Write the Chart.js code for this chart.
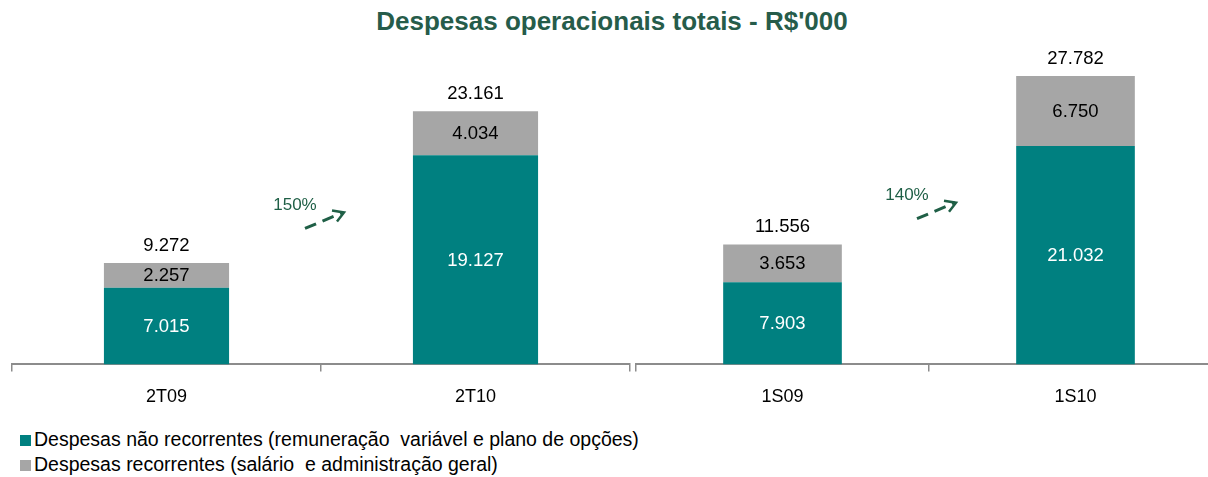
<!DOCTYPE html>
<html>
<head>
<meta charset="utf-8">
<script src="https://cdn.jsdelivr.net/npm/chart.js@4.4.0/dist/chart.umd.min.js"></script>
<style>
  body { margin: 0; width: 1208px; height: 477px; overflow: hidden; background: #fff; font-family: "Liberation Sans", Arial, sans-serif; position: relative; }
  #title { position: absolute; top: 6px; left: 0; width: 1224px; text-align: center; font-weight: bold; font-size: 26px; color: #265c4a; }
  #wrapLeft { position: absolute; left: 0; top: 0; width: 632px; height: 425px; }
  #wrapRight { position: absolute; left: 634px; top: 0; width: 600px; height: 425px; }
  #legend { position: absolute; left: 20px; top: 427px; font-size: 19.5px; color: #000; line-height: 25px; }
  #legend span.box { display: inline-block; width: 11px; height: 11px; margin-right: 3px; }
</style>
</head>
<body>
<div id="title">Despesas operacionais totais - R$'000</div>
<div id="wrapLeft"><canvas id="chartLeft"></canvas></div>
<div id="wrapRight"><canvas id="chartRight"></canvas></div>
<div id="legend">
  <div><span class="box" style="background:#008080"></span>Despesas não recorrentes (remuneração&nbsp; variável e plano de opções)</div>
  <div><span class="box" style="background:#a6a6a6"></span>Despesas recorrentes (salário&nbsp; e administração geral)</div>
</div>
<script>
// dados
const quarterLabels = ['2T09', '2T10'];
const quarterNaoRecorrentes = [7015, 19127];
const quarterRecorrentes = [2257, 4034];
const quarterTotais = [9272, 23161];
const quarterGrowth = '150%';

const semesterLabels = ['1S09', '1S10'];
const semesterNaoRecorrentes = [7903, 21032];
const semesterRecorrentes = [3653, 6750];
const semesterTotais = [11556, 27782];
const semesterGrowth = '140%';

const fmt = v => v.toLocaleString('pt-BR');
const FONT = '"Liberation Sans", Arial, sans-serif';

// rotulos dentro das barras, totais em cima e a seta de crescimento
const labelsPlugin = {
  id: 'labelsPlugin',
  afterDatasetsDraw(chart) {
    const ctx = chart.ctx;
    const opts = chart.options.plugins.labelsPlugin;
    ctx.save();
    ctx.font = '18.5px ' + FONT;
    ctx.textAlign = 'center';
    ctx.textBaseline = 'middle';
    chart.data.datasets.forEach((ds, i) => {
      chart.getDatasetMeta(i).data.forEach((bar, j) => {
        const mid = (bar.y + bar.base) / 2;
        ctx.fillStyle = i === 0 ? '#ffffff' : '#000000';
        ctx.fillText(fmt(ds.data[j]), bar.x, mid + 1);
      });
    });
    ctx.fillStyle = '#000';
    ctx.textBaseline = 'bottom';
    chart.getDatasetMeta(1).data.forEach((bar, j) => {
      ctx.fillText(fmt(opts.totals[j]), bar.x, bar.y - 8);
    });

    // seta
    const x = chart.scales.x.getPixelForValue(0.5) + opts.dx;
    const y = chart.scales.y.getPixelForValue(chart.scales.y.max * opts.arrowAt);
    ctx.fillStyle = '#1f5f46';
    ctx.font = '17px ' + FONT;
    ctx.textBaseline = 'middle';
    ctx.fillText(opts.growth, x - 26, y - 13);
    ctx.strokeStyle = '#1f5f46';
    ctx.lineWidth = 3;
    ctx.setLineDash([12, 7]);
    ctx.beginPath();
    ctx.moveTo(x - 16, y + 10);
    ctx.lineTo(x + 22, y - 6);
    ctx.stroke();
    ctx.setLineDash([]);
    ctx.lineWidth = 2.5;
    ctx.beginPath();
    ctx.moveTo(x + 11, y - 8);
    ctx.lineTo(x + 23, y - 6);
    ctx.lineTo(x + 16, y + 3);
    ctx.stroke();
    ctx.restore();
  }
};

function makeChart(id, labels, bottom, top, totals, growth, yMax, padLeft, padRight, arrowAt, dx) {
  return new Chart(document.getElementById(id), {
    type: 'bar',
    data: {
      labels: labels,
      datasets: [
        { label: 'Despesas não recorrentes', data: bottom, backgroundColor: '#008080', barPercentage: 0.405, categoryPercentage: 1 },
        { label: 'Despesas recorrentes', data: top, backgroundColor: '#a6a6a6', barPercentage: 0.405, categoryPercentage: 1 }
      ]
    },
    options: {
      responsive: true,
      maintainAspectRatio: false,
      animation: false,
      layout: { padding: { top: 40, bottom: 2, left: padLeft, right: padRight } },
      plugins: {
        legend: { display: false },
        tooltip: { enabled: false },
        labelsPlugin: { totals: totals, growth: growth, arrowAt: arrowAt, dx: dx }
      },
      scales: {
        x: {
          stacked: true,
          grid: { offset: true, drawOnChartArea: false, drawTicks: true, tickLength: 7, color: '#8c8c8c', lineWidth: 1.5 },
          border: { color: '#8c8c8c', width: 2 },
          ticks: { color: '#000', font: { size: 18, family: FONT }, padding: 15 }
        },
        y: { stacked: true, display: false, min: 0, max: yMax }
      }
    },
    plugins: [labelsPlugin]
  });
}

makeChart('chartLeft', quarterLabels, quarterNaoRecorrentes, quarterRecorrentes, quarterTotais, quarterGrowth, 29680, 12, 2, 0.45, 0);
makeChart('chartRight', semesterLabels, semesterNaoRecorrentes, semesterRecorrentes, semesterTotais, semesterGrowth, 31250, 2, 12, 0.48, 4);
</script>
</body>
</html>
